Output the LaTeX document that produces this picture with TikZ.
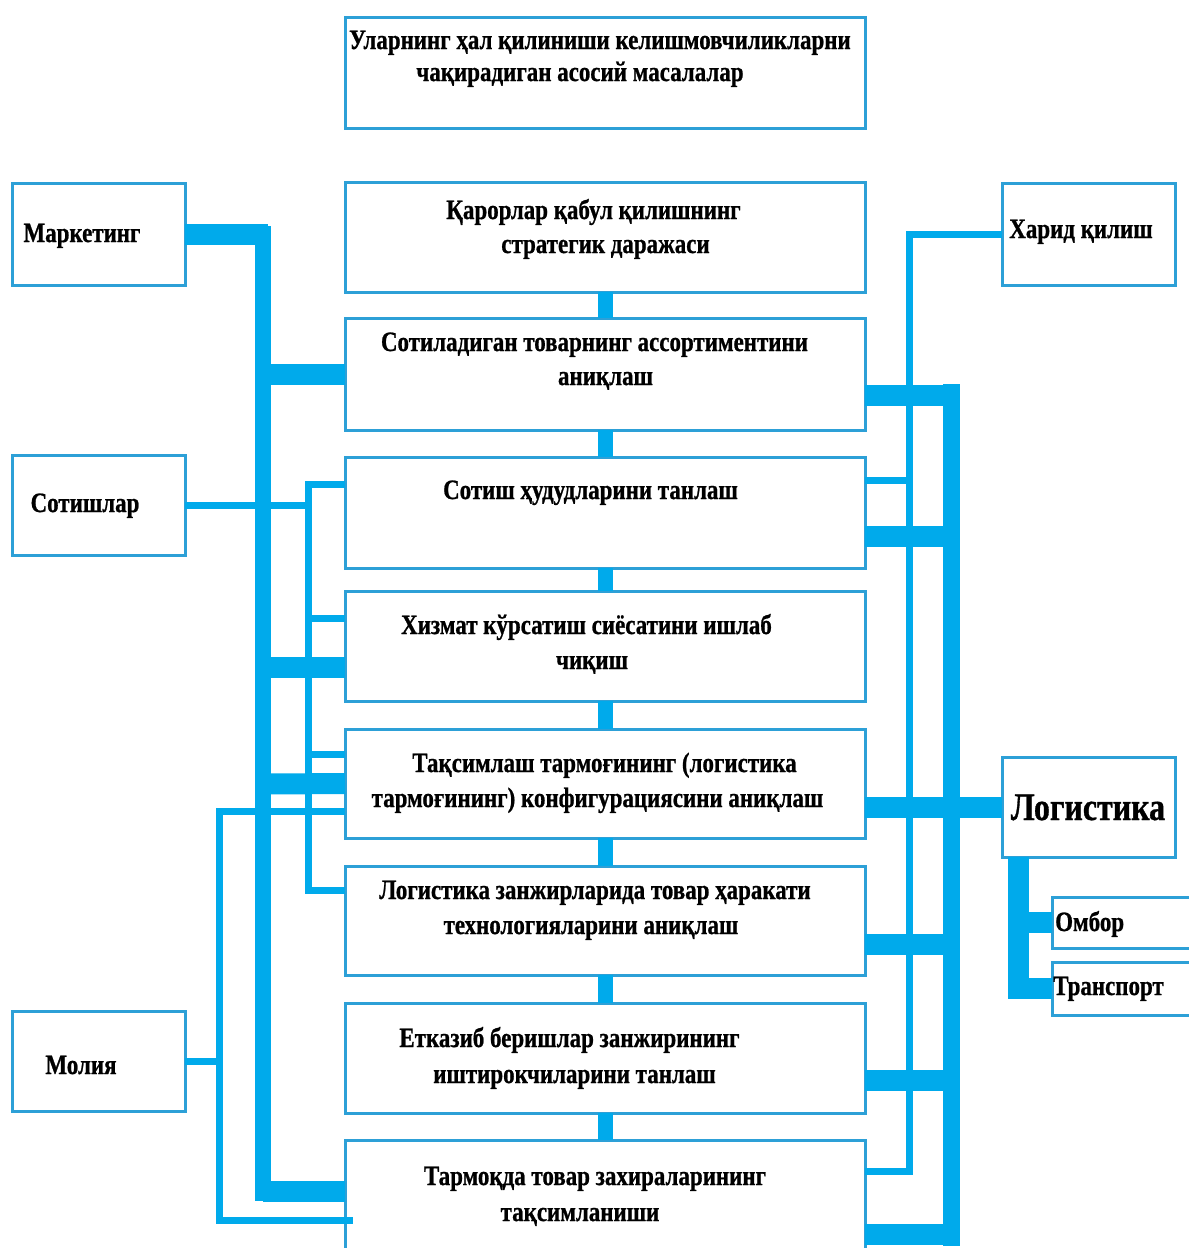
\documentclass[tikz,border=0pt]{standalone}
\usepackage{fontspec}
\setmainfont[FakeStretch=0.82, BoldFeatures={FakeBold=0.8}]{Liberation Serif}
\definecolor{ln}{RGB}{0,170,235}
\definecolor{bx}{RGB}{45,160,215}
\tikzset{
  boxst/.style={draw=bx, line width=3pt, inner sep=0pt, outer sep=0pt, anchor=north west},
  thk/.style={draw=ln, line width=21pt},
  busl/.style={draw=ln, line width=16pt},
  thn/.style={draw=ln, line width=7pt},
  vlink/.style={draw=ln, line width=15pt},
  txt/.style={inner sep=0pt, anchor=base, font=\bfseries\fontsize{28}{34}\selectfont},
  bigtxt/.style={inner sep=0pt, anchor=base, font=\bfseries\fontsize{39}{46}\selectfont},
}
\begin{document}
\begin{tikzpicture}[x=1pt,y=-1pt]
\useasboundingbox (0,0) rectangle (1189,1248);
\clip (0,0) rectangle (1189,1248);
\fill[white] (0,0) rectangle (1189,1248);
% boxes
\node[boxst, minimum width=520pt, minimum height=111pt] (tt) at (345,17) {};
\node[boxst, minimum width=520pt, minimum height=110pt] (b1) at (345,182) {};
\node[boxst, minimum width=520pt, minimum height=112pt] (b2) at (345,318) {};
\node[boxst, minimum width=520pt, minimum height=111pt] (b3) at (345,457) {};
\node[boxst, minimum width=520pt, minimum height=110pt] (b4) at (345,591) {};
\node[boxst, minimum width=520pt, minimum height=109pt] (b5) at (345,729) {};
\node[boxst, minimum width=520pt, minimum height=109pt] (b6) at (345,866) {};
\node[boxst, minimum width=520pt, minimum height=110pt] (b7) at (345,1003) {};
\node[boxst, minimum width=520pt, minimum height=130pt] (b8) at (345,1140) {};
\node[boxst, minimum width=173pt, minimum height=102pt] (mk) at (12,183) {};
\node[boxst, minimum width=173pt, minimum height=100pt] (st) at (12,455) {};
\node[boxst, minimum width=173pt, minimum height=100pt] (ml) at (12,1011) {};
\node[boxst, minimum width=173pt, minimum height=102pt] (hq) at (1002,183) {};
\node[boxst, minimum width=173pt, minimum height=100pt] (lg) at (1002,757) {};
\node[boxst, minimum width=160pt, minimum height=51pt] (om) at (1052,897) {};
\node[boxst, minimum width=160pt, minimum height=53pt] (tr) at (1052,962) {};
% centre links
\draw[vlink] (b1.south) -- (b2.north);
\draw[vlink] (b2.south) -- (b3.north);
\draw[vlink] (b3.south) -- (b4.north);
\draw[vlink] (b4.south) -- (b5.north);
\draw[vlink] (b5.south) -- (b6.north);
\draw[vlink] (b6.south) -- (b7.north);
\draw[vlink] (b7.south) -- (b8.north);
% left thick bus
\draw[thk] (mk.east) -- (268,234);
\draw[busl] (263,226) -- (263,1201);
\draw[thk] (263,374) -- (b2.west);
\draw[thk] (263,667) -- ([yshift=-76pt]b4.north west);
\draw[thk] (263,784) -- (b5.west);
\draw[thk] (263,1191) -- ([yshift=-51pt]b8.north west);
% left thin bus
\draw[thn] (st.east) -- (308,505);
\draw[thn] ([yshift=-27pt]b3.north west) -- (308,484) -- (308,890) -- ([yshift=-24pt]b6.north west);
\draw[thn] (308,618) -- ([yshift=-27pt]b4.north west);
\draw[thn] (308,754) -- ([yshift=-25pt]b5.north west);
% finance
\draw[thn] ([yshift=-82pt]b5.north west) -- (219,811) -- (219,1220) -- ([xshift=8pt,yshift=-80pt]b8.north west);
\draw[thn] (ml.east) -- (219,1061);
% right thin bus
\draw[thn] (hq.west) -- (909,234) -- (909,1171) -- ([yshift=-31pt]b8.north east);
\draw[thn] ([yshift=-23pt]b3.north east) -- (909,480);
% right thick bus
\draw[busl, line width=17pt] (951,384) -- (951,1246);
\draw[thk] ([yshift=-77pt]b2.north east) -- (951,395);
\draw[thk] ([yshift=-79pt]b3.north east) -- (951,536);
\draw[thk] (b5.east |- lg.west) -- (lg.west);
\draw[thk] ([yshift=-78pt]b6.north east) -- (951,944);
\draw[thk] ([yshift=-77pt]b7.north east) -- (951,1080);
\draw[thk] ([yshift=-94pt]b8.north east) -- (951,1234);
% logistics sub
\coordinate (lgs) at ([xshift=16pt]lg.south west);
\draw[thk, line join=miter] (lgs) |- (tr.west);
\draw[thk] (lgs |- om.west) -- (om.west);
% texts
\node[txt] (t0a) at (600,49) {Уларнинг ҳал қилиниши келишмовчиликларни};
\node[txt] (t0b) at (580,81) {чақирадиган асосий масалалар};
\node[txt] (t1a) at (593.5,219) {Қарорлар қабул қилишнинг};
\node[txt] (t1b) at (605.5,253) {стратегик даражаси};
\node[txt] (t2a) at (594.5,351) {Сотиладиган товарнинг ассортиментини};
\node[txt] (t2b) at (605.5,385) {аниқлаш};
\node[txt] (t3a) at (590.5,499) {Сотиш ҳудудларини танлаш};
\node[txt] (t4a) at (586.5,634) {Хизмат кўрсатиш сиёсатини ишлаб};
\node[txt] (t4b) at (592,669) {чиқиш};
\node[txt] (t5a) at (604.5,772) {Тақсимлаш тармоғининг (логистика};
\node[txt] (t5b) at (597.5,807) {тармоғининг) конфигурациясини аниқлаш};
\node[txt] (t6a) at (595,899) {Логистика занжирларида товар ҳаракати};
\node[txt] (t6b) at (591,934) {технологияларини аниқлаш};
\node[txt] (t7a) at (569.5,1047) {Етказиб беришлар занжирининг};
\node[txt] (t7b) at (574.5,1083) {иштирокчиларини танлаш};
\node[txt] (t8a) at (595,1185) {Тармоқда товар захираларининг};
\node[txt] (t8b) at (580,1221) {тақсимланиши};
\node[txt] (tmk) at (82,242) {Маркетинг};
\node[txt] (tst) at (85,512) {Сотишлар};
\node[txt] (tml) at (81,1074) {Молия};
\node[txt] (thq) at (1081,238) {Харид қилиш};
\node[bigtxt] (tlg) at (1088,820) {Логистика};
\node[txt, anchor=base west] (tom) at (1055,931) {Омбор};
\node[txt, anchor=base west] (ttr) at (1053,995) {Транспорт};
\end{tikzpicture}
\end{document}
